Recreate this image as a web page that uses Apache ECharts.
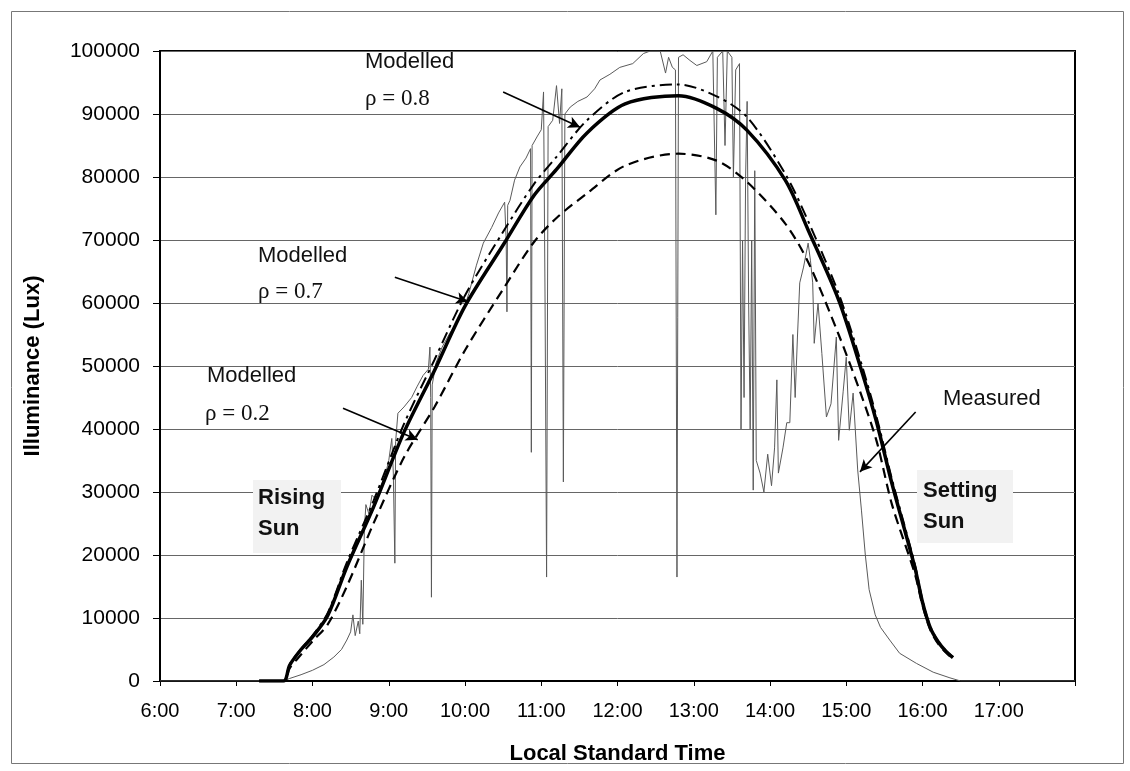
<!DOCTYPE html>
<html><head><meta charset="utf-8">
<script src="https://cdn.jsdelivr.net/npm/echarts/dist/echarts.min.js"></script>
<style>html,body{margin:0;padding:0;background:#fff}#c{width:1130px;height:771px}</style>
</head><body><div id="c"></div>
<script>
// ---- data (time in decimal hours, illuminance in lux) ----
const modelTimes = [7.30, 7.62, 7.70, 7.85, 8.0, 8.2, 8.45, 8.8, 9.2, 9.6, 10.0, 10.5, 10.9, 11.2, 11.6, 12.1, 12.8, 13.3, 13.7, 14.2, 14.5, 14.9, 15.2, 15.4, 15.6, 15.9, 16.0, 16.1, 16.2, 16.3, 16.4];
const rho07 = [0, 0, 2500, 5000, 7000, 10400, 18100, 27600, 39500, 49300, 59500, 69200, 77000, 81200, 87000, 91600, 92900, 90900, 87400, 79500, 71600, 60500, 49300, 41000, 31300, 18000, 12500, 8500, 6300, 4800, 3700];
const rho08 = [0, 0, 2600, 5100, 7200, 10800, 18800, 28600, 40800, 51000, 61200, 71300, 78800, 83200, 89000, 93500, 94700, 92800, 89500, 80500, 73000, 61500, 50300, 41800, 32000, 18500, 12800, 8700, 6400, 4900, 3800];
const rho02 = [0, 0, 2000, 4200, 6300, 9000, 15000, 25000, 35500, 43500, 52500, 62200, 69600, 73500, 77400, 81800, 83700, 82600, 79200, 72600, 66500, 55000, 45300, 38000, 28000, 17000, 12000, 8200, 6000, 4600, 3500];

const measTimes = [6.00, 7.62, 7.70, 7.85, 8.00, 8.15, 8.28, 8.38, 8.45, 8.50, 8.53, 8.56, 8.60, 8.62, 8.64, 8.66, 8.68, 8.70, 8.74, 8.78, 8.84, 8.90, 8.95, 9.00, 9.04, 9.06, 9.08, 9.09, 9.12, 9.20, 9.30, 9.37, 9.45, 9.52, 9.54, 9.55, 9.56, 9.57, 9.62, 9.70, 9.80, 9.90, 9.98, 10.05, 10.15, 10.24, 10.35, 10.44, 10.52, 10.54, 10.55, 10.56, 10.59, 10.65, 10.72, 10.80, 10.86, 10.87, 10.88, 10.95, 11.00, 11.03, 11.05, 11.07, 11.09, 11.15, 11.20, 11.24, 11.27, 11.29, 11.31, 11.38, 11.48, 11.60, 11.70, 11.77, 11.90, 12.03, 12.20, 12.34, 12.43, 12.56, 12.63, 12.67, 12.72, 12.76, 12.78, 12.80, 12.86, 12.95, 13.04, 13.17, 13.25, 13.27, 13.29, 13.31, 13.38, 13.41, 13.44, 13.50, 13.52, 13.55, 13.60, 13.62, 13.64, 13.66, 13.68, 13.70, 13.72, 13.74, 13.76, 13.78, 13.80, 13.82, 13.87, 13.92, 13.97, 14.02, 14.06, 14.09, 14.11, 14.17, 14.22, 14.26, 14.30, 14.33, 14.36, 14.39, 14.44, 14.50, 14.53, 14.56, 14.58, 14.63, 14.68, 14.74, 14.80, 14.87, 14.90, 14.96, 15.00, 15.04, 15.09, 15.15, 15.20, 15.25, 15.30, 15.38, 15.45, 15.57, 15.70, 15.92, 16.14, 16.36, 16.50, 18.00];
const measured = [0, 0, 400, 1000, 1700, 2600, 3800, 5000, 6500, 7800, 10500, 7200, 9500, 7500, 16000, 9000, 24000, 28000, 26500, 29500, 28700, 31000, 32500, 35000, 38500, 33000, 18700, 38000, 42500, 43500, 45000, 46700, 48500, 49500, 53000, 45000, 13300, 47000, 50500, 53000, 55200, 57000, 58900, 61500, 66000, 69500, 72000, 74300, 76000, 70000, 58600, 75500, 76300, 79500, 81600, 83000, 84500, 36300, 85000, 86500, 87500, 93500, 60000, 16500, 88000, 89000, 94500, 88500, 94000, 31600, 90000, 91100, 92000, 92700, 94000, 95400, 96300, 97400, 98000, 99600, 100000, 100000, 96500, 99000, 97400, 97000, 16500, 99000, 99400, 98500, 97700, 98300, 100000, 100000, 74000, 99000, 100000, 85000, 100000, 99000, 80000, 97000, 98000, 40000, 70000, 45000, 80000, 92000, 60000, 40000, 70000, 30300, 81000, 35000, 33000, 30000, 36000, 31000, 37000, 47800, 33000, 37000, 41000, 41000, 55000, 45000, 54600, 63200, 65700, 69500, 66800, 63200, 53600, 60000, 52000, 41900, 44000, 54600, 38200, 46000, 51400, 39800, 45700, 33500, 27000, 20000, 14500, 10500, 8500, 6500, 4400, 2800, 1400, 500, 0, 0];

const yTicks = [0, 10000, 20000, 30000, 40000, 50000, 60000, 70000, 80000, 90000, 100000];
const xTickHours = [6, 7, 8, 9, 10, 11, 12, 13, 14, 15, 16, 17];

// arrows: [fromTime, fromValue, toTime, toValue]
const arrows = [
  [10.50, 93500, 11.51, 87900],
  [9.08, 64100, 10.04, 60200],
  [8.40, 43300, 9.38, 38300],
  [15.91, 42700, 15.18, 33200]
];

const zip = (t, v) => t.map((x, i) => [x, v[i]]);
const chart = echarts.init(document.getElementById('c'));
const SANS = 'Liberation Sans, Arial, sans-serif';
const SERIF = 'Liberation Serif, Times New Roman, serif';

function t2(x, y, s, font) {
  return {type: 'text', x: x, y: y, z: 100, style: {text: s, font: font, fill: '#111', textVerticalAlign: 'middle'}};
}

chart.setOption({
  animation: false,
  backgroundColor: '#fff',
  grid: {left: 160, right: 55, top: 51, bottom: 90, show: true, borderColor: '#000', borderWidth: 2},
  xAxis: {
    type: 'value', min: 6, max: 18, interval: 1,
    name: 'Local Standard Time', nameLocation: 'middle', nameGap: 62,
    nameTextStyle: {fontFamily: SANS, fontSize: 22, fontWeight: 'bold', color: '#000'},
    axisLine: {show: true, onZero: false, lineStyle: {color: '#000', width: 2}},
    axisTick: {show: true, length: 5, lineStyle: {color: '#000'}},
    axisLabel: {fontFamily: SANS, fontSize: 20, color: '#000', margin: 20,
      formatter: v => (xTickHours.indexOf(v) >= 0 ? v + ':00' : '')},
    splitLine: {show: false}
  },
  yAxis: {
    type: 'value', min: 0, max: 100000, interval: 10000,
    name: 'Illuminance (Lux)', nameLocation: 'middle', nameGap: 116,
    nameTextStyle: {fontFamily: SANS, fontSize: 22, fontWeight: 'bold', color: '#000'},
    axisLine: {show: true, lineStyle: {color: '#000', width: 2}},
    axisTick: {show: true, length: 7, lineStyle: {color: '#000'}},
    axisLabel: {fontFamily: SANS, fontSize: 21, color: '#000', margin: 20,
      formatter: v => (yTicks.indexOf(v) >= 0 ? String(v) : '')},
    splitLine: {show: true, lineStyle: {color: '#666', width: 1}}
  },
  series: [
    {name: 'Measured', type: 'line', data: zip(measTimes, measured), showSymbol: false,
      lineStyle: {color: '#5a5a5a', width: 1}, z: 2},
    {name: 'rho=0.2', type: 'line', data: zip(modelTimes, rho02), showSymbol: false, smooth: 0.3,
      lineStyle: {color: '#000', width: 2.2, type: [10, 6]}, z: 3},
    {name: 'rho=0.8', type: 'line', data: zip(modelTimes, rho08), showSymbol: false, smooth: 0.3,
      lineStyle: {color: '#000', width: 2, type: [12, 5, 3, 5]}, z: 3},
    {name: 'rho=0.7', type: 'line', data: zip(modelTimes, rho07), showSymbol: false, smooth: 0.3,
      lineStyle: {color: '#000', width: 3.5}, z: 4,
      markLine: {silent: true, symbol: ['none', 'arrow'], symbolSize: [9, 12], label: {show: false},
        lineStyle: {color: '#000', width: 1.6, type: 'solid'},
        data: arrows.map(a => [{coord: [a[0], a[1]]}, {coord: [a[2], a[3]]}])}}
  ],
  graphic: [
    {type: 'rect', left: 9, top: 9, z: -1, shape: {width: 1112, height: 752},
      style: {fill: 'none', stroke: '#777', lineWidth: 1}},
    {type: 'rect', left: 253, top: 480, z: 50, shape: {width: 88, height: 73},
      style: {fill: '#f2f2f2', stroke: null}},
    {type: 'rect', left: 917, top: 470, z: 50, shape: {width: 96, height: 73},
      style: {fill: '#f2f2f2', stroke: null}},
    t2(365, 62, 'Modelled', '22px ' + SANS),
    t2(365, 99, 'ρ = 0.8', '23px ' + SERIF),
    t2(258, 256, 'Modelled', '22px ' + SANS),
    t2(258, 292, 'ρ = 0.7', '23px ' + SERIF),
    t2(207, 376, 'Modelled', '22px ' + SANS),
    t2(205, 414, 'ρ = 0.2', '23px ' + SERIF),
    t2(943, 399, 'Measured', '22px ' + SANS),
    t2(258, 498, 'Rising', 'bold 22px ' + SANS),
    t2(258, 529, 'Sun', 'bold 22px ' + SANS),
    t2(923, 491, 'Setting', 'bold 22px ' + SANS),
    t2(923, 522, 'Sun', 'bold 22px ' + SANS)
  ]
});
</script></body></html>
